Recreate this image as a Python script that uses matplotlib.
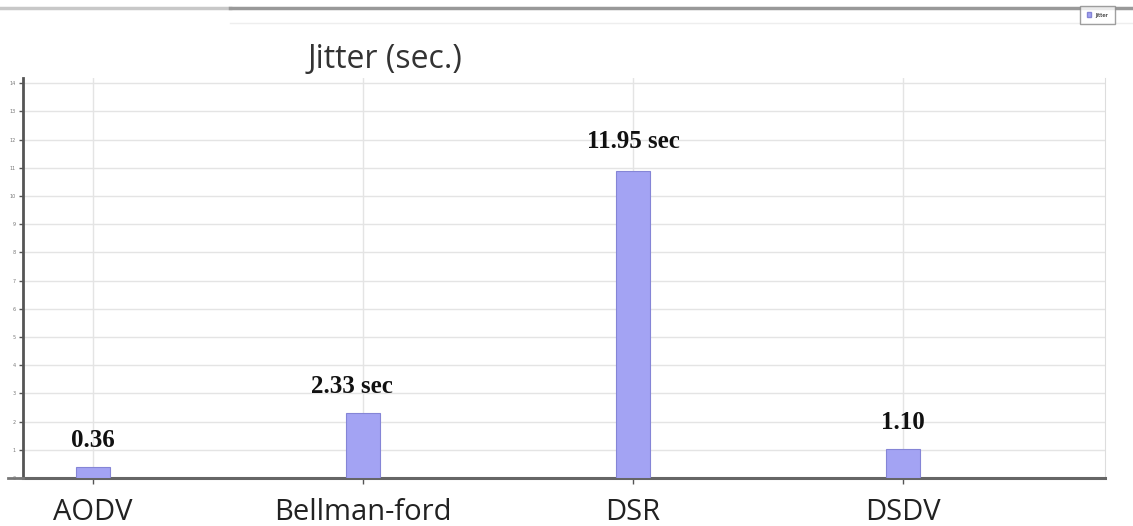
import matplotlib
matplotlib.use("Agg")
import matplotlib.pyplot as plt
from matplotlib.lines import Line2D
from matplotlib.patches import Patch

categories = ["AODV", "Bellman-ford", "DSR", "DSDV"]
bar_values = [0.39, 2.30, 10.89, 1.03]
value_labels = ["0.36", "2.33 sec", "11.95 sec", "1.10"]
y_ticks = list(range(0, 15))
title = "Jitter (sec.)"
legend_label = "Jitter"

fig = plt.figure(figsize=(11.33, 5.26), dpi=100)
W, H = 1133, 526
left, right, bottom_px, top_px = 23, 1105, 478, 77.6
ax = fig.add_axes([left / W, 1 - bottom_px / H, (right - left) / W, (bottom_px - top_px) / H])

x = list(range(len(categories)))
ax.bar(x, bar_values, width=0.125, color="#a3a3f3", edgecolor="#8585d6", linewidth=0.8, zorder=3)

ax.set_xlim(-0.26, 3.748)
ax.set_ylim(0, 14.2)
ax.set_yticks(y_ticks)
ax.set_yticklabels([str(t) for t in y_ticks], fontsize=3.5, color="#777777")
ax.set_xticks(x)
ax.set_xticklabels([])
ax.tick_params(axis="y", length=3, width=1, color="#555555", pad=2)
ax.tick_params(axis="x", length=4, width=1, color="#555555")

ax.grid(True, axis="both", color="#e4e4e4", linewidth=1.0, zorder=0)
ax.set_axisbelow(True)
ax.spines["top"].set_visible(False)
ax.spines["right"].set_color("#dddddd")
ax.spines["left"].set_color("#555555")
ax.spines["left"].set_linewidth(2.0)
ax.spines["bottom"].set_color("#666666")
ax.spines["bottom"].set_linewidth(2.2)

# extend bottom line slightly left
fig.add_artist(Line2D([8 / W, left / W], [1 - bottom_px / H, 1 - bottom_px / H],
                      color="#777777", linewidth=2.0))

# top decorative bands
fig.add_artist(Line2D([0, 230 / W], [1 - 8 / H, 1 - 8 / H], color="#c8c8c8", linewidth=2.5))
fig.add_artist(Line2D([230 / W, 1], [1 - 8 / H, 1 - 8 / H], color="#999999", linewidth=2.5))
fig.add_artist(Line2D([230 / W, 1], [1 - 23 / H, 1 - 23 / H], color="#eeeeee", linewidth=1))

# category labels
for xi, c in zip(x, categories):
    ax.text(xi, -0.72, c, ha="center", va="top", fontsize=21, color="#222222",
            family="Open Sans", transform=ax.transData, clip_on=False)

# value labels
offsets = [(0, 11), (-8, 11), (0, 13), (0, 11)]
for xi, v, lab, off in zip(x, bar_values, value_labels, offsets):
    ax.annotate(lab, (xi, v), xytext=off, textcoords="offset points", ha="center", va="bottom",
                fontsize=18, fontweight="bold", family="Liberation Serif", color="#111111")

fig.text(385 / W, 1 - 59 / H, title, ha="center", va="center", fontsize=23,
         family="Open Sans", fontweight="medium", color="#333333")

leg = fig.legend(handles=[Patch(facecolor="#a3a3f3", edgecolor="#8585d6", label=legend_label)],
                 loc="upper right", bbox_to_anchor=(1118 / W, 1 - 3 / H), fontsize=4,
                 frameon=True, fancybox=False, edgecolor="#888888", handlelength=0.8,
                 handleheight=0.8, borderpad=1.2)

fig.savefig("out.png", dpi=100)
